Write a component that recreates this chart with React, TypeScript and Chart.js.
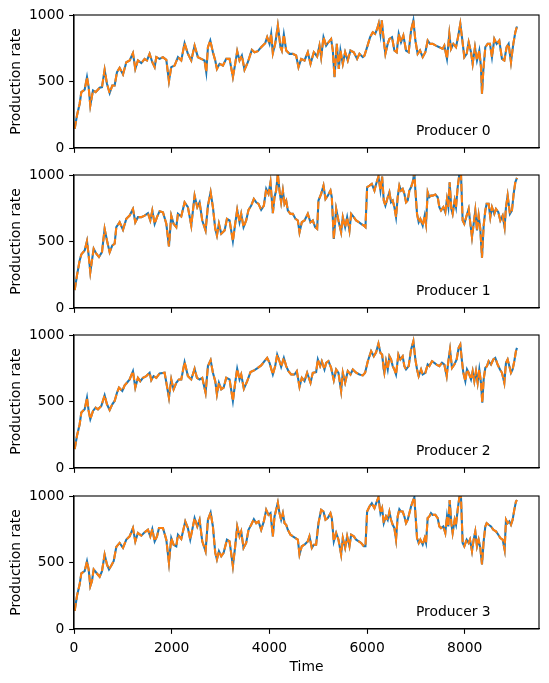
import React, { useEffect, useRef } from "react";
import { Chart, registerables } from "chart.js";

Chart.register(...registerables);

// ---- data: production rate per producer, as [time, rate] pairs ----
const TIME_TICKS = [0, 2000, 4000, 6000, 8000];
const RATE_TICKS = [0, 500, 1000];
const TIME_MAX = 9520;
const RATE_MAX = 1000;
const PRODUCER_NAMES = ["Producer 0", "Producer 1", "Producer 2", "Producer 3"];
const LABEL_TIME = 7000;
const LABEL_RATE = 100;

const PRODUCER_0: [number, number][] = [
  [14, 145], [61, 245], [116, 333], [150, 420], [218, 438], [266, 533], [300, 458], [334, 320], [389, 433], [443, 420],
  [525, 453], [573, 458], [627, 588], [675, 483], [730, 413], [784, 470], [832, 470], [880, 570], [934, 603], [1003, 553],
  [1071, 645], [1139, 658], [1207, 713], [1255, 595], [1309, 658], [1378, 638], [1446, 670], [1494, 658], [1548, 708], [1603, 645],
  [1651, 608], [1685, 683], [1753, 670], [1821, 683], [1890, 663], [1944, 503], [1991, 608], [2060, 620], [2128, 683], [2196, 658],
  [2264, 788], [2332, 708], [2401, 658], [2469, 770], [2537, 683], [2605, 670], [2673, 658], [2708, 570], [2742, 758], [2790, 808],
  [2844, 720], [2892, 658], [2926, 595], [2980, 633], [3049, 620], [3117, 670], [3185, 670],
  [3253, 533], [3300, 633], [3341, 728], [3389, 658], [3437, 695], [3491, 588], [3559, 645], [3641, 738], [3696, 720], [3764, 728],
  [3832, 758], [3914, 788], [3955, 833], [4003, 783], [4037, 858], [4071, 713], [4119, 783], [4173, 920], [4228, 758], [4255, 733],
  [4296, 853], [4344, 733], [4412, 708], [4480, 708], [4548, 695], [4596, 608], [4651, 670], [4719, 658], [4787, 720], [4842, 633],
  [4910, 720], [4978, 688], [5026, 770], [5060, 683], [5108, 833], [5162, 770], [5210, 795], [5264, 820], [5299, 733], [5333, 533],
  [5380, 783], [5421, 595], [5455, 733], [5503, 633], [5551, 720], [5605, 658], [5660, 733], [5728, 720], [5796, 670], [5844, 708],
  [5912, 683], [5946, 695], [6001, 758], [6062, 833], [6117, 870], [6165, 858], [6206, 895], [6240, 938], [6274, 853], [6301, 960],
  [6342, 808],
  [6375, 708], [6423, 783], [6457, 820], [6511, 833], [6559, 733], [6607, 720], [6648, 858], [6695, 795], [6743, 845], [6798, 733],
  [6852, 720], [6900, 883], [6948, 960], [6989, 808], [7036, 708], [7084, 733], [7139, 683], [7193, 720], [7241, 808], [7289, 783],
  [7343, 783], [7411, 770], [7480, 758], [7548, 745], [7582, 770], [7636, 670], [7684, 858], [7718, 745], [7766, 783], [7821, 758],
  [7868, 845], [7909, 933], [7943, 833], [7991, 683], [8039, 708], [8080, 795], [8128, 720], [8162, 633], [8209, 758], [8250, 658],
  [8298, 733], [8332, 608], [8353, 408], [8380, 583], [8421, 758], [8469, 783], [8516, 783], [8557, 683], [8605, 820], [8653, 783],
  [8707, 808], [8762, 670], [8810, 658], [8857, 758], [8898, 783], [8946, 645], [8994, 783], [9035, 870], [9069, 913],
];

const PRODUCER_1: [number, number][] = [
  [14, 135], [61, 245], [116, 358], [150, 403], [218, 433], [266, 503], [300, 395], [334, 270], [368, 358], [403, 445],
  [457, 408], [511, 383], [573, 420], [627, 595], [675, 508], [730, 420], [784, 470], [832, 483], [866, 608], [934, 645],
  [1003, 588], [1071, 670], [1139, 695], [1207, 745], [1255, 645], [1309, 683], [1378, 683], [1446, 695], [1514, 713], [1562, 658],
  [1603, 733], [1651, 633], [1699, 683], [1753, 728], [1821, 720], [1890, 633], [1944, 463], [1991, 695], [2039, 633], [2094, 608],
  [2128, 708], [2196, 688], [2264, 795], [2332, 758], [2401, 620], [2469, 845], [2524, 758], [2571, 795], [2626, 658], [2694, 583],
  [2742, 770], [2797, 870], [2844, 758], [2892, 595], [2926, 545], [2967, 633], [3015, 558], [3083, 583], [3131, 670], [3185, 658],
  [3253, 503], [3300, 633], [3341, 738], [3389, 645], [3423, 708], [3471, 608], [3525, 658], [3573, 738], [3628, 770], [3682, 820],
  [3730, 795], [3778, 783], [3832, 738], [3887, 770], [3935, 895], [3982, 858], [4023, 945], [4071, 713], [4105, 833], [4139, 883],
  [4173, 1010], [4207, 883], [4241, 795], [4276, 883], [4310, 783], [4344, 808], [4378, 733], [4432, 708], [4480, 708], [4535, 670],
  [4583, 658], [4617, 570], [4664, 645], [4719, 658], [4787, 708], [4842, 645], [4889, 658], [4937, 608], [4978, 595], [5005, 808],
  [5060, 858], [5108, 920], [5149, 820], [5196, 845], [5251, 883], [5278, 833], [5319, 520], [5367, 745], [5414, 658], [5469, 570],
  [5503, 683], [5551, 608], [5592, 683], [5640, 583], [5674, 708], [5728, 683], [5776, 658], [5830, 645], [5878, 633], [5933, 620],
  [5967, 608], [6001, 908], [6049, 920], [6097, 933], [6151, 883], [6185, 933], [6233, 988], [6274, 883], [6308, 988], [6342, 808],
  [6375, 770], [6423, 833], [6457, 870], [6491, 795], [6525, 808], [6559, 758], [6593, 683], [6627, 833], [6661, 920], [6695, 883],
  [6729, 895], [6764, 858], [6798, 795], [6832, 808], [6866, 883], [6900, 908], [6934, 945], [6968, 1020], [6989, 883], [7023, 708],
  [7057, 645], [7091, 670], [7139, 620], [7180, 695], [7207, 633], [7241, 870], [7275, 833], [7309, 845], [7343, 845], [7398, 853],
  [7446, 833], [7480, 758], [7514, 733], [7561, 758], [7602, 720], [7636, 820], [7664, 758], [7691, 945], [7725, 745], [7752, 708],
  [7793, 808], [7821, 758], [7855, 908], [7889, 1005], [7923, 1005], [7957, 658], [7991, 633], [8039, 695], [8080, 745], [8107, 658],
  [8148, 533], [8182, 633], [8216, 733], [8250, 583], [8284, 695], [8318, 595], [8353, 378], [8387, 620], [8421, 733], [8448, 783],
  [8489, 783], [8523, 683], [8557, 758], [8605, 708], [8639, 745], [8687, 720], [8728, 658], [8776, 695], [8816, 608], [8844, 758],
  [8878, 845], [8925, 708], [8966, 733], [9001, 858], [9035, 945], [9069, 978],
];

const PRODUCER_2: [number, number][] = [
  [14, 142], [61, 242], [116, 329], [150, 417], [218, 441], [266, 529], [300, 429], [334, 367], [389, 429], [443, 454],
  [491, 441], [559, 466], [627, 546], [675, 479], [730, 436], [784, 479], [832, 504], [880, 566], [921, 604], [989, 579],
  [1037, 621], [1084, 641], [1139, 666], [1207, 728], [1255, 604], [1309, 678], [1357, 653], [1412, 678], [1480, 691], [1548, 716],
  [1582, 661], [1630, 691], [1685, 678], [1753, 711], [1855, 716], [1903, 616], [1944, 529], [1991, 666], [2039, 591], [2094, 641],
  [2149, 666], [2196, 666], [2264, 796], [2332, 691], [2401, 666], [2469, 746], [2517, 678], [2571, 666], [2626, 678], [2694, 566],
  [2742, 766], [2797, 811], [2844, 716], [2892, 653], [2926, 554], [2967, 641], [3015, 591], [3063, 604], [3117, 678], [3185, 666],
  [3253, 504], [3300, 641], [3341, 746], [3389, 666], [3423, 703], [3478, 596], [3546, 653], [3614, 721], [3696, 736], [3764, 753],
  [3832, 771], [3900, 803], [3955, 828], [4003, 791], [4071, 703], [4119, 766], [4160, 853], [4207, 803], [4241, 761], [4296, 828],
  [4344, 766], [4391, 728], [4446, 703], [4514, 703], [4562, 728], [4617, 611], [4664, 678], [4719, 653], [4773, 716], [4842, 641],
  [4889, 716], [4957, 721], [4992, 816], [5039, 766], [5073, 803], [5128, 741], [5162, 791], [5210, 803], [5264, 753], [5319, 661],
  [5367, 741], [5414, 716], [5469, 579], [5503, 716], [5551, 641], [5605, 728], [5660, 703], [5708, 741], [5776, 716], [5844, 703],
  [5912, 696], [5960, 716], [6015, 803], [6083, 878], [6137, 840], [6185, 870], [6233, 935], [6274, 865], [6308, 853], [6342, 741],
  [6354, 716], [6388, 803], [6423, 741], [6457, 840], [6491, 816], [6525, 766], [6559, 741], [6593, 703], [6641, 853], [6682, 816],
  [6729, 840], [6764, 766], [6798, 741], [6852, 766], [6900, 890], [6948, 953], [6989, 816], [7023, 741], [7057, 691], [7105, 741],
  [7139, 703], [7193, 716], [7241, 778], [7275, 766], [7330, 803], [7377, 791], [7425, 778], [7480, 766], [7534, 791], [7582, 778],
  [7630, 691], [7664, 803], [7698, 890], [7739, 753], [7787, 778], [7834, 816], [7875, 903], [7909, 928], [7943, 803], [7971, 716],
  [8012, 653], [8046, 741], [8080, 716], [8128, 666], [8162, 728], [8196, 653], [8230, 728], [8264, 641], [8298, 741], [8332, 641],
  [8359, 491], [8387, 666], [8421, 753], [8455, 766], [8489, 803], [8537, 778], [8585, 816], [8625, 828], [8673, 778], [8721, 741],
  [8762, 716], [8810, 641], [8844, 791], [8878, 816], [8912, 766], [8946, 716], [8980, 741], [9014, 803], [9048, 878], [9069, 903],
];

const PRODUCER_3: [number, number][] = [
  [14, 137], [61, 249], [116, 336], [150, 418], [218, 435], [266, 510], [300, 448], [334, 323], [368, 361], [403, 448],
  [457, 423], [525, 393], [573, 435], [627, 560], [675, 485], [716, 448], [764, 478], [812, 510], [866, 617], [934, 647],
  [1003, 610], [1071, 672], [1139, 697], [1207, 759], [1255, 659], [1309, 722], [1378, 702], [1446, 727], [1514, 746], [1562, 697],
  [1603, 751], [1651, 659], [1699, 697], [1740, 759], [1821, 759], [1890, 672], [1944, 498], [1991, 684], [2039, 634], [2094, 622],
  [2128, 709], [2196, 677], [2278, 809], [2332, 759], [2380, 672], [2469, 834], [2524, 771], [2571, 821], [2626, 659], [2694, 585],
  [2742, 821], [2797, 876], [2844, 771], [2892, 572], [2926, 523], [2967, 585], [3015, 547], [3063, 572], [3131, 672], [3185, 659],
  [3253, 473], [3300, 622], [3341, 771], [3389, 697], [3423, 734], [3471, 610], [3525, 647], [3573, 746], [3628, 784], [3682, 826],
  [3730, 796], [3778, 809], [3832, 746], [3887, 809], [3935, 896], [3982, 858], [4023, 871], [4071, 697], [4105, 846], [4139, 896],
  [4173, 950], [4207, 871], [4241, 821], [4276, 871], [4310, 796], [4344, 784], [4378, 746], [4432, 709], [4480, 697], [4535, 684],
  [4583, 672], [4617, 560], [4664, 622], [4719, 634], [4787, 659], [4821, 697], [4869, 610], [4910, 634], [4957, 634], [5005, 796],
  [5060, 896], [5108, 883], [5149, 821], [5196, 834], [5251, 871], [5278, 834], [5319, 659], [5367, 722], [5414, 672], [5469, 560],
  [5503, 684], [5551, 610], [5592, 697], [5640, 622], [5674, 709], [5728, 697], [5776, 672], [5830, 659], [5878, 647], [5933, 622],
  [5967, 622], [6001, 883], [6049, 921], [6097, 945], [6151, 908], [6185, 945], [6233, 990], [6274, 871], [6308, 908], [6342, 796],
  [6388, 846], [6423, 821], [6457, 881], [6491, 821], [6525, 784], [6559, 759], [6593, 672], [6627, 846], [6661, 901], [6695, 883],
  [6729, 883], [6764, 846], [6798, 796], [6832, 821], [6866, 871], [6900, 921], [6934, 958], [6968, 990], [6989, 871], [7023, 684],
  [7057, 647], [7091, 672], [7139, 634], [7180, 684], [7207, 647], [7241, 834], [7275, 846], [7309, 871], [7343, 858], [7398, 858],
  [7446, 834], [7480, 771], [7514, 759], [7561, 771], [7602, 722], [7636, 846], [7664, 771], [7691, 970], [7725, 796], [7752, 722],
  [7793, 821], [7821, 784], [7855, 896], [7889, 990], [7923, 990], [7957, 647], [7991, 622], [8039, 672], [8080, 647], [8107, 672],
  [8148, 585], [8182, 672], [8216, 734], [8250, 622], [8284, 672], [8318, 610], [8353, 485], [8387, 659], [8421, 771], [8448, 796],
  [8489, 784], [8537, 771], [8585, 746], [8639, 734], [8687, 709], [8728, 684], [8776, 672], [8816, 597], [8844, 821], [8878, 796],
  [8912, 809], [8946, 784], [8980, 821], [9014, 896], [9048, 958], [9069, 970],
];

const PRODUCERS = [PRODUCER_0, PRODUCER_1, PRODUCER_2, PRODUCER_3];

// ---- layout / style ----
const FIG_W = 549;
const FIG_H = 683;
const PLOT_LEFT = 74;
const PLOT_RIGHT = 539;
const PLOT_TOPS = [15, 175, 335, 496];
const PLOT_H = 133;
const PAD_TOP = 16; // room above the plot for the top tick label
const FONT_FAMILY = "DejaVu Sans";
const FONT_SIZE = 13.89;
const BLUE = "#1f77b4";
const ORANGE = "#ff7f0e";
const LINE_W = 2.08;
const SPINE_W = 1.1;
const TICK_LEN = 4.86;

function Panel({ index, last }: { index: number; last: boolean }) {
  const ref = useRef<HTMLCanvasElement>(null);
  const xAxisH = last ? 54 : 16;
  const height = PAD_TOP + PLOT_H + xAxisH;
  const top = PLOT_TOPS[index] - PAD_TOP;

  useEffect(() => {
    const points = PRODUCERS[index].map(([t, r]) => ({ x: t, y: r }));
    const name = PRODUCER_NAMES[index];
    const font = { family: FONT_FAMILY, size: FONT_SIZE };

    // axes frame on all four sides, plus the producer name inside the plot
    const frame = {
      id: "frameAndName",
      afterDraw(chart: any) {
        const { ctx, chartArea, scales } = chart;
        ctx.save();
        ctx.strokeStyle = "#000";
        ctx.lineWidth = SPINE_W;
        ctx.strokeRect(chartArea.left, chartArea.top, chartArea.right - chartArea.left, chartArea.bottom - chartArea.top);
        ctx.fillStyle = "#000";
        ctx.font = `${FONT_SIZE}px "${FONT_FAMILY}"`;
        ctx.textAlign = "left";
        ctx.textBaseline = "alphabetic";
        ctx.fillText(name, scales.x.getPixelForValue(LABEL_TIME), scales.y.getPixelForValue(LABEL_RATE));
        ctx.restore();
      },
    };

    const chart = new Chart(ref.current as HTMLCanvasElement, {
      type: "line",
      data: {
        datasets: [
          {
            label: "observed",
            data: points,
            borderColor: BLUE,
            borderWidth: LINE_W,
            pointRadius: 0,
            tension: 0,
            order: 1,
          },
          {
            label: "simulated",
            data: points,
            borderColor: ORANGE,
            borderWidth: LINE_W,
            borderDash: [7.7, 3.3],
            pointRadius: 0,
            tension: 0,
            order: 0,
          },
        ],
      },
      options: {
        animation: false,
        responsive: false,
        maintainAspectRatio: false,
        events: [],
        layout: {
          autoPadding: false,
          padding: { top: PAD_TOP, right: FIG_W - PLOT_RIGHT, left: 0, bottom: 0 },
        },
        plugins: { legend: { display: false }, tooltip: { enabled: false } },
        scales: {
          x: {
            type: "linear",
            min: 0,
            max: TIME_MAX,
            afterBuildTicks: (s: any) => {
              s.ticks = TIME_TICKS.map((v) => ({ value: v }));
            },
            afterFit: (s: any) => {
              s.height = xAxisH;
            },
            ticks: {
              display: last,
              font,
              color: "#000",
              padding: 6,
              maxRotation: 0,
              callback: (v: any) => String(v),
            },
            grid: {
              drawOnChartArea: false,
              drawTicks: true,
              tickLength: TICK_LEN,
              tickWidth: SPINE_W,
              tickColor: "#000",
              color: "#000",
            },
            border: { display: true, color: "#000", width: SPINE_W },
            title: {
              display: last,
              text: "Time",
              font,
              color: "#000",
              padding: { top: 0, bottom: 7.5 },
            },
          },
          y: {
            type: "linear",
            min: 0,
            max: RATE_MAX,
            afterBuildTicks: (s: any) => {
              s.ticks = RATE_TICKS.map((v) => ({ value: v }));
            },
            afterFit: (s: any) => {
              s.width = PLOT_LEFT;
            },
            ticks: { font, color: "#000", padding: 4.8, callback: (v: any) => String(v) },
            grid: {
              drawOnChartArea: false,
              drawTicks: true,
              tickLength: TICK_LEN,
              tickWidth: SPINE_W,
              tickColor: "#000",
              color: "#000",
            },
            border: { display: true, color: "#000", width: SPINE_W },
            title: {
              display: true,
              text: "Production rate",
              font,
              color: "#000",
              padding: { top: 8.3, bottom: 0 },
            },
          },
        },
      },
      plugins: [frame],
    } as any);

    return () => chart.destroy();
  }, [index, last, xAxisH]);

  return (
    <canvas
      ref={ref}
      width={FIG_W}
      height={height}
      style={{ position: "absolute", left: 0, top, width: FIG_W, height, display: "block" }}
    />
  );
}

export default function App() {
  return (
    <div
      style={{
        position: "absolute",
        left: 0,
        top: 0,
        width: FIG_W,
        height: FIG_H,
        background: "#fff",
        overflow: "hidden",
      }}
    >
      {PRODUCERS.map((_, i) => (
        <Panel key={i} index={i} last={i === PRODUCERS.length - 1} />
      ))}
    </div>
  );
}
